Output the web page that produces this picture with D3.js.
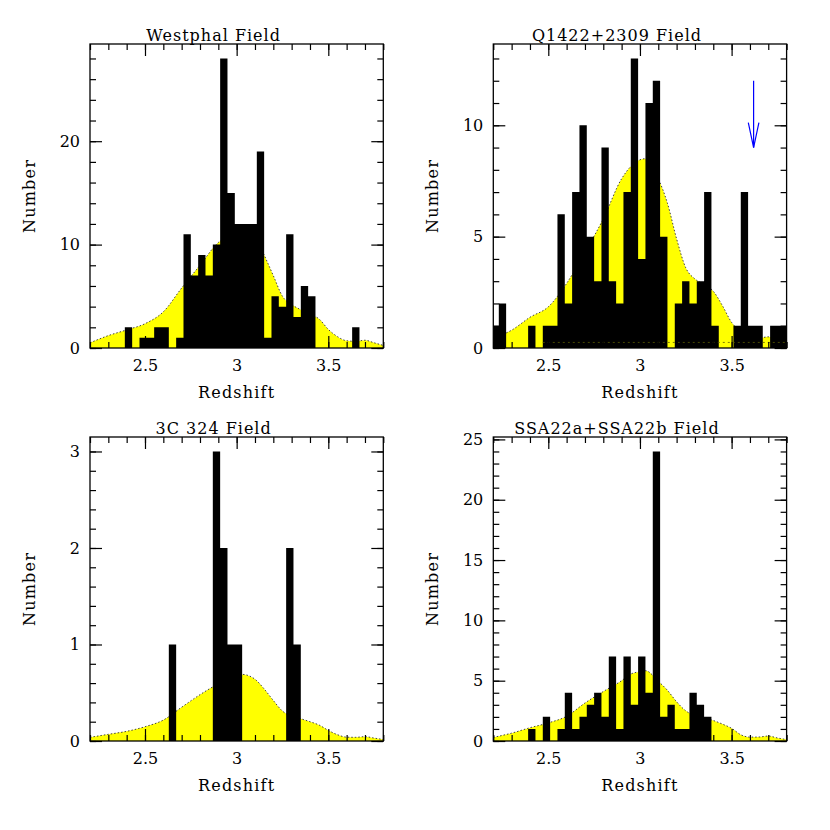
<!DOCTYPE html>
<html>
<head>
<meta charset="utf-8">
<script src="https://cdn.jsdelivr.net/npm/d3@7"></script>
<style>
body { margin: 0; background: #fff; }
text { font-family: "DejaVu Serif", serif; fill: #000; }
</style>
</head>
<body>
<script>
// histogram bins: left edge of first bin and width, in redshift
var binStart = 2.19;
var binWidth = 0.04;

var titles = ["Westphal Field", "Q1422+2309 Field", "3C 324 Field", "SSA22a+SSA22b Field"];

var westphalCounts = [0,0,0,0,0,2,0,1,1,2,2,0,1,11,7,9,7,10,28,15,12,12,12,19,1,5,4,11,3,6,5,0,0,0,0,0,2,0,0,0,0];
var q1422Counts    = [1,2,0,0,0,1,0,1,1,6,2,7,10,5,3,9,3,2,7,13,4,11,12,5,0,2,3,2,3,7,1,0,0,1,7,1,1,0,1,1,1];
var c324Counts     = [0,0,0,0,0,0,0,0,0,0,0,1,0,0,0,0,0,3,2,1,1,0,0,0,0,0,0,2,1,0,0,0,0,0,0,0,0,0,0,0,0];
var ssa22Counts    = [0,0,0,0,0,1,0,2,0,1,4,1,2,3,4,2,7,1,7,3,7,4,24,2,3,1,1,4,3,2,0,0,0,0,0,0,0,0,0,0,0];

// selection curve (yellow), sampled at these redshifts
var curveZ = [2.2,2.3,2.4,2.5,2.6,2.7,2.8,2.9,2.95,3.0,3.03,3.1,3.15,3.2,3.25,3.3,3.35,3.4,3.45,3.5,3.55,3.6,3.65,3.7,3.75,3.8];
var westphalCurve = [0.5,1.2,1.75,2.35,3.5,5.8,8.0,10.2,10.8,11.5,11.8,10.9,9.0,7.0,5.0,4.2,3.7,3.3,2.8,1.8,1.1,0.7,0.65,0.75,0.5,0.25];
var q1422Curve    = [0.45,0.8,1.38,1.85,2.9,4.3,5.8,7.6,8.15,8.45,8.5,7.6,6.5,4.9,3.6,3.1,2.85,2.55,1.9,1.15,0.75,0.5,0.45,0.5,0.35,0.2];
var c324Curve     = [0.038,0.069,0.10,0.148,0.217,0.35,0.48,0.59,0.63,0.67,0.69,0.64,0.54,0.42,0.31,0.255,0.23,0.20,0.165,0.11,0.065,0.04,0.038,0.045,0.03,0.015];
var ssa22Curve    = [0.3,0.65,1.1,1.5,2.05,3.15,4.1,5.0,5.55,5.75,5.83,4.95,4.2,3.25,2.5,2.1,1.9,1.7,1.4,1.05,0.52,0.32,0.33,0.41,0.25,0.12];

var xDomain = [2.2, 3.8];
var xMajorTicks = [2.5, 3, 3.5];
var xMinorTicks = d3.range(22, 39).map(function(d) { return d / 10; });

var yMax = [29.4, 13.65, 3.15, 25.2];
var yMajorStep = [10, 5, 1, 5];
var yMinorStep = [2, 1, 0.2, 1];

// arrow in the Q1422 panel: redshift, from count, to count
var arrowZ = 3.62, arrowFrom = 12, arrowTo = 9;
// faint dotted level in the Q1422 panel
var q1422Level = {from: 2.47, to: 3.8, n: 0.25};

var config = {
    left: [90, 493.3],
    bottom: [348, 741],
    width: 293.3,
    height: 304,
}

var panels = [
    {title: titles[0], counts: westphalCounts, curve: westphalCurve, col: 0, row: 0},
    {title: titles[1], counts: q1422Counts, curve: q1422Curve, col: 1, row: 0},
    {title: titles[2], counts: c324Counts, curve: c324Curve, col: 0, row: 1},
    {title: titles[3], counts: ssa22Counts, curve: ssa22Curve, col: 1, row: 1},
];

var svg = d3.select("body").append("svg")
    .attr("width", 830)
    .attr("height", 830)

panels.forEach(function(p, i) {
    var x0 = config.left[p.col];
    var y1 = config.bottom[p.row];
    var y0 = y1 - config.height;

    var x = d3.scaleLinear().domain(xDomain).range([x0, x0 + config.width]);
    var y = d3.scaleLinear().domain([0, yMax[i]]).range([y1, y0]);

    var clipId = "clip" + i;
    svg.append("clipPath").attr("id", clipId)
        .append("rect")
        .attr("x", x0).attr("y", y0)
        .attr("width", config.width).attr("height", config.height);

    var g = svg.append("g").attr("clip-path", "url(#" + clipId + ")");

    var pts = curveZ.map(function(z, j) { return [z, p.curve[j]]; });

    g.append("path")
        .datum(pts)
        .attr("fill", "#ffff00")
        .attr("d", d3.area()
            .x(function(d) { return x(d[0]); })
            .y0(y(0))
            .y1(function(d) { return y(d[1]); })
            .curve(d3.curveMonotoneX));

    g.append("path")
        .datum(pts)
        .attr("fill", "none")
        .attr("stroke", "#444")
        .attr("stroke-width", 1)
        .attr("stroke-dasharray", "1.5,2")
        .attr("d", d3.line()
            .x(function(d) { return x(d[0]); })
            .y(function(d) { return y(d[1]); })
            .curve(d3.curveMonotoneX));

    // histogram as one stepped shape, so neighbouring bins merge
    var steps = p.counts.map(function(c, k) {
        return {z: binStart + k * binWidth, n: c};
    });
    steps.push({z: binStart + p.counts.length * binWidth, n: p.counts[p.counts.length - 1]});

    g.append("path")
        .datum(steps)
        .attr("fill", "#000")
        .attr("d", d3.area()
            .x(function(d) { return x(d.z); })
            .y0(y(0))
            .y1(function(d) { return y(d.n); })
            .curve(d3.curveStepAfter));

    if (i == 1) {
        g.append("line")
            .attr("x1", x(q1422Level.from)).attr("x2", x(q1422Level.to))
            .attr("y1", y(q1422Level.n)).attr("y2", y(q1422Level.n))
            .attr("stroke", "#5a5a00")
            .attr("stroke-width", 0.8)
            .attr("stroke-dasharray", "2,3");

        var ax = x(arrowZ);
        g.append("line")
            .attr("x1", ax).attr("x2", ax)
            .attr("y1", y(arrowFrom)).attr("y2", y(arrowTo))
            .attr("stroke", "#0000ff").attr("stroke-width", 1.2);
        g.append("path")
            .attr("d", "M" + (ax - 5.3) + "," + (y(arrowTo) - 25) + "L" + ax + "," + y(arrowTo) + "L" + (ax + 5.3) + "," + (y(arrowTo) - 25))
            .attr("fill", "none")
            .attr("stroke", "#0000ff").attr("stroke-width", 1.2);
    }

    // axes: ticks point inward on all four sides
    var yMajor = d3.range(0, yMax[i] + 1e-9, yMajorStep[i]).map(function(v) { return +v.toFixed(4); });
    var yMinor = d3.range(0, yMax[i] + 1e-9, yMinorStep[i]).map(function(v) { return +v.toFixed(4); });

    function axisStyle(sel) {
        sel.select(".domain").remove();
        sel.selectAll("line").attr("stroke", "#000").attr("stroke-width", 1.2);
        sel.selectAll("text").attr("font-size", "16px").attr("fill", "#000")
            .style("font-family", '"DejaVu Serif", serif');
    }

    svg.append("g").attr("transform", "translate(0," + y1 + ")")
        .call(d3.axisBottom(x).tickValues(xMajorTicks).tickSize(-12).tickPadding(12)
            .tickFormat(d3.format("")))
        .call(axisStyle);
    svg.append("g").attr("transform", "translate(0," + y1 + ")")
        .call(d3.axisBottom(x).tickValues(xMinorTicks).tickSize(-6).tickFormat(""))
        .call(axisStyle);
    svg.append("g").attr("transform", "translate(0," + y0 + ")")
        .call(d3.axisTop(x).tickValues(xMajorTicks).tickSize(-12).tickFormat(""))
        .call(axisStyle);
    svg.append("g").attr("transform", "translate(0," + y0 + ")")
        .call(d3.axisTop(x).tickValues(xMinorTicks).tickSize(-6).tickFormat(""))
        .call(axisStyle);

    svg.append("g").attr("transform", "translate(" + x0 + ",0)")
        .call(d3.axisLeft(y).tickValues(yMajor).tickSize(-12).tickPadding(10)
            .tickFormat(d3.format("")))
        .call(axisStyle);
    svg.append("g").attr("transform", "translate(" + x0 + ",0)")
        .call(d3.axisLeft(y).tickValues(yMinor).tickSize(-6).tickFormat(""))
        .call(axisStyle);
    svg.append("g").attr("transform", "translate(" + (x0 + config.width) + ",0)")
        .call(d3.axisRight(y).tickValues(yMajor).tickSize(-12).tickFormat(""))
        .call(axisStyle);
    svg.append("g").attr("transform", "translate(" + (x0 + config.width) + ",0)")
        .call(d3.axisRight(y).tickValues(yMinor).tickSize(-6).tickFormat(""))
        .call(axisStyle);

    svg.append("rect")
        .attr("x", x0).attr("y", y0)
        .attr("width", config.width).attr("height", config.height)
        .attr("fill", "none")
        .attr("stroke", "#000")
        .attr("stroke-width", 1.3);

    svg.append("text")
        .attr("x", x0 + config.width / 2 - 23)
        .attr("y", y0 - 3)
        .attr("text-anchor", "middle")
        .attr("font-size", "16px")
        .attr("letter-spacing", "1px")
        .text(p.title);

    svg.append("text")
        .attr("x", x0 + config.width / 2)
        .attr("y", y1 + 50)
        .attr("text-anchor", "middle")
        .attr("font-size", "16px")
        .attr("letter-spacing", "1.2px")
        .text("Redshift");

    svg.append("text")
        .attr("transform", "translate(" + (x0 - 55) + "," + (y0 + config.height / 2) + ") rotate(-90)")
        .attr("text-anchor", "middle")
        .attr("font-size", "16px")
        .attr("letter-spacing", "1.2px")
        .text("Number");
});
</script>
</body>
</html>
